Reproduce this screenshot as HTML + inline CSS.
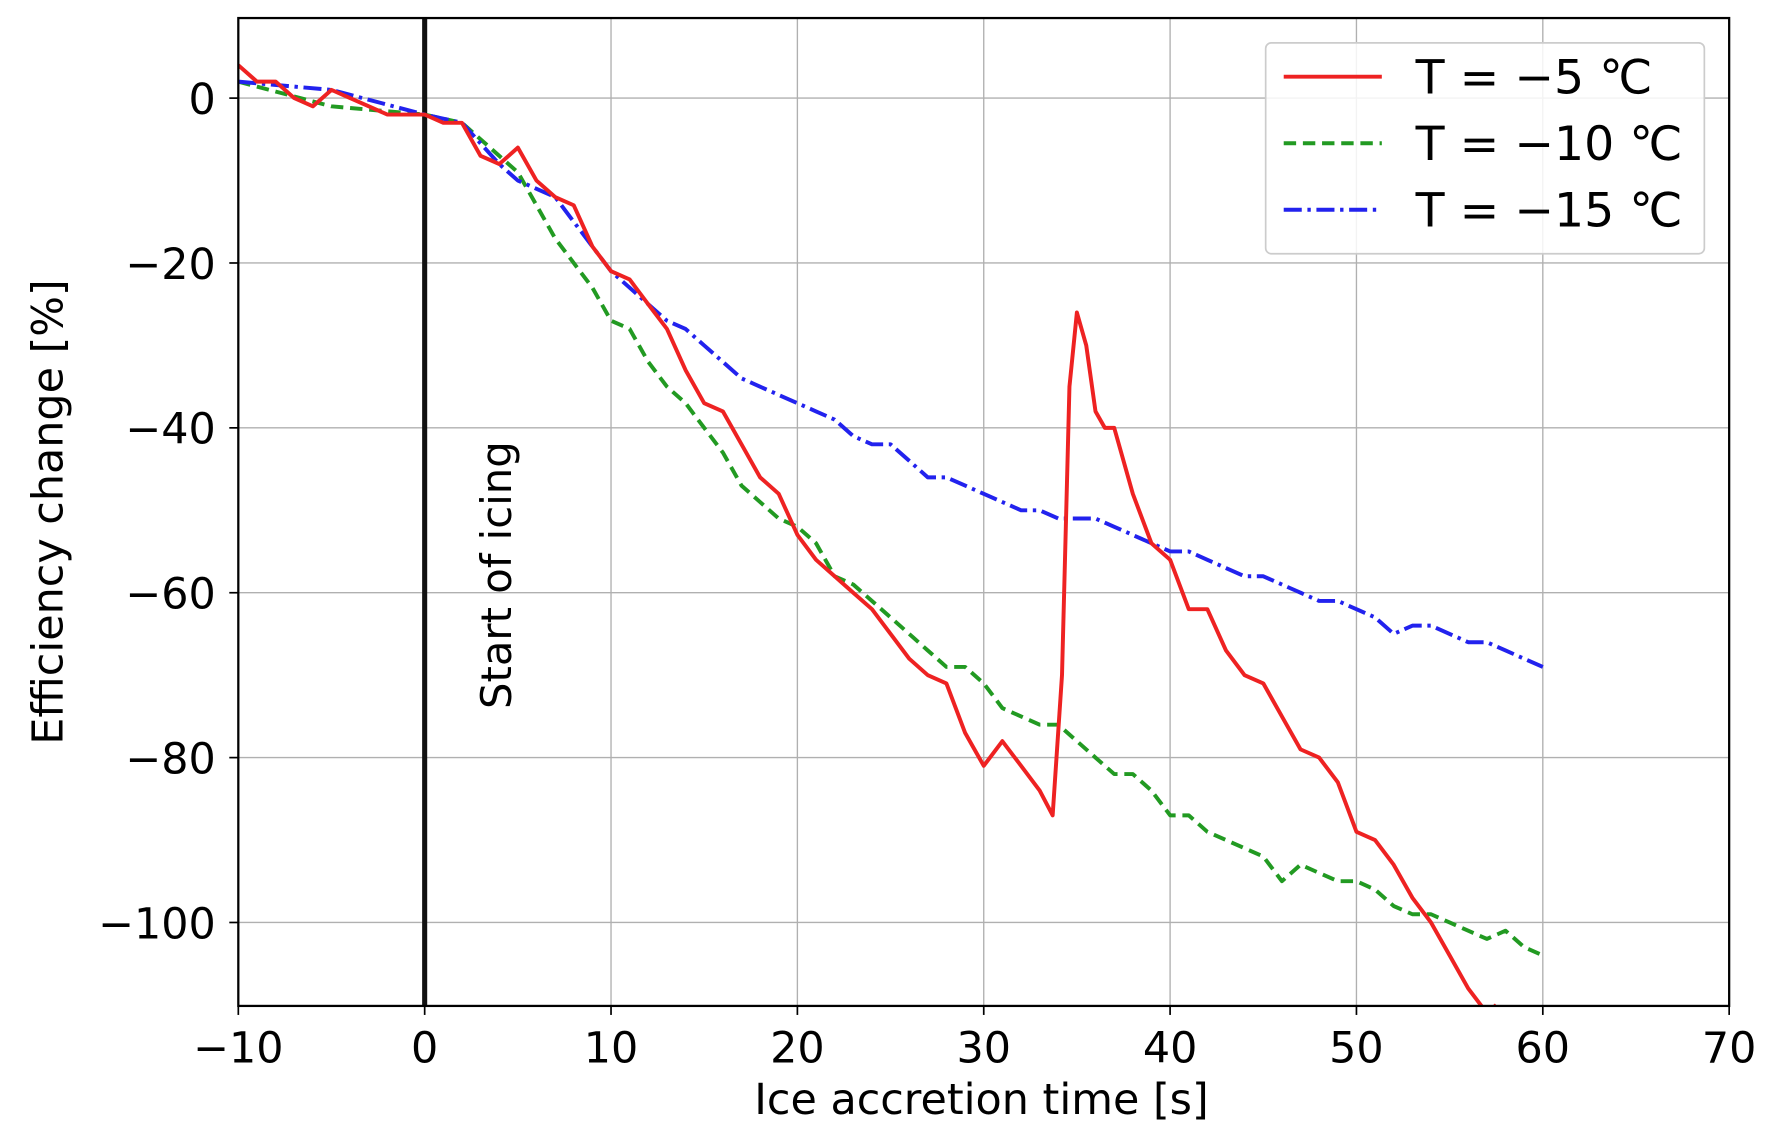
<!DOCTYPE html>
<html><head><meta charset="utf-8"><style>
html,body{margin:0;padding:0;background:#fff;}
svg{display:block;font-family:"DejaVu Sans","Liberation Sans",sans-serif;}
</style></head><body>
<svg id="chart" width="1769" height="1139" viewBox="0 0 1568 1010" xmlns="http://www.w3.org/2000/svg">
<defs><clipPath id="plotclip"><rect x="211" y="16" width="1322" height="876"/></clipPath></defs>
<g id="grid"></g>
<g id="series" clip-path="url(#plotclip)"></g>
<g id="axes"></g>
</svg>
<script>
const xTicks=[-10,0,10,20,30,40,50,60,70];
const yTicks=[0,-20,-40,-60,-80,-100];
const redX=[-10,-9,-8,-7,-6,-5,-4,-3,-2,-1,0,1,2,3,4,5,6,7,8,9,10,11,12,13,14,15,16,17,18,19,20,21,22,23,24,25,26,27,28,29,30,31,32,33,33.7,34.2,34.6,35,35.5,36,36.5,37,38,39,40,41,42,43,44,45,46,47,48,49,50,51,52,53,54,55,56,57,57.5];
const redY=[4,2,2,0,-1,1,0,-1,-2,-2,-2,-3,-3,-7,-8,-6,-10,-12,-13,-18,-21,-22,-25,-28,-33,-37,-38,-42,-46,-48,-53,-56,-58,-60,-62,-65,-68,-70,-71,-77,-81,-78,-81,-84,-87,-70,-35,-26,-30,-38,-40,-40,-48,-54,-56,-62,-62,-67,-70,-71,-75,-79,-80,-83,-89,-90,-93,-97,-100,-104,-108,-111,-110];
const greenX=[-10,-5,0,2,4,5,6,7,8,9,10,11,12,13,14,15,16,17,18,19,20,21,22,23,24,25,26,27,28,29,30,31,32,33,34,35,36,37,38,39,40,41,42,43,44,45,46,47,48,49,50,51,52,53,54,55,56,57,58,59,60];
const greenY=[2,-1,-2,-3,-7,-9,-13,-17,-20,-23,-27,-28,-32,-35,-37,-40,-43,-47,-49,-51,-52,-54,-58,-59,-61,-63,-65,-67,-69,-69,-71,-74,-75,-76,-76,-78,-80,-82,-82,-84,-87,-87,-89,-90,-91,-92,-95,-93,-94,-95,-95,-96,-98,-99,-99,-100,-101,-102,-101,-103,-104];
const blueX=[-10,-5,0,2,4,5,6,7,8,9,10,11,12,13,14,15,16,17,18,19,20,21,22,23,24,25,26,27,28,29,30,31,32,33,34,35,36,37,38,39,40,41,42,43,44,45,46,47,48,49,50,51,52,53,54,55,56,57,58,59,60];
const blueY=[2,1,-2,-3,-8,-10,-11,-12,-15,-18,-21,-23,-25,-27,-28,-30,-32,-34,-35,-36,-37,-38,-39,-41,-42,-42,-44,-46,-46,-47,-48,-49,-50,-50,-51,-51,-51,-52,-53,-54,-55,-55,-56,-57,-58,-58,-59,-60,-61,-61,-62,-63,-65,-64,-64,-65,-66,-66,-67,-68,-69];
const labels=["T = \u22125 \u2103","T = \u221210 \u2103","T = \u221215 \u2103"];

const NS="http://www.w3.org/2000/svg";
const X0=211,X1=1533,Y0=16,Y1=892;
const xs=v=>X0+(v+10)/80*(X1-X0);
const ys=v=>87-v*7.31;
function mk(tag,attrs,parent){const e=document.createElementNS(NS,tag);for(const k in attrs)e.setAttribute(k,attrs[k]);parent.appendChild(e);return e;}
const grid=document.getElementById('grid'),axes=document.getElementById('axes'),series=document.getElementById('series');
xTicks.forEach(t=>{
  const l=mk('line',{x1:xs(t),x2:xs(t),y1:Y0,y2:Y1,stroke:'#b0b0b0','stroke-width':1.2},grid);
  
  
  mk('line',{x1:xs(t),x2:xs(t),y1:Y1,y2:Y1+8,stroke:'#000','stroke-width':1.5},axes);
  const tx=mk('text',{x:xs(t),y:Y1+50,'text-anchor':'middle','font-size':38,fill:'#000'},axes);
  tx.textContent=t<0?'\u2212'+Math.abs(t):t;
  
  
});
yTicks.forEach(t=>{
  const l=mk('line',{x1:X0,x2:X1,y1:ys(t),y2:ys(t),stroke:'#b0b0b0','stroke-width':1.2},grid);
  
  
  mk('line',{x1:X0-8,x2:X0,y1:ys(t),y2:ys(t),stroke:'#000','stroke-width':1.5},axes);
  const tx=mk('text',{x:X0-20,y:ys(t)+14,'text-anchor':'end','font-size':38,fill:'#000'},axes);
  tx.textContent=t<0?'\u2212'+Math.abs(t):t;
  
  
});
const frame=mk('rect',{x:X0,y:Y0,width:X1-X0,height:Y1-Y0,fill:'none',stroke:'#000','stroke-width':2},axes);


const vl=mk('line',{x1:xs(0),x2:xs(0),y1:Y0,y2:Y1,stroke:'#111','stroke-width':4.5},series);


const it=mk('text',{x:0,y:0,'font-size':37,fill:'#000',transform:`translate(453,510) rotate(-90)`,'text-anchor':'middle'},axes);
it.textContent='Start of icing';


function poly(xa,ya,color,dash,name){
  const pts=xa.map((x,i)=>xs(x).toFixed(1)+','+ys(ya[i]).toFixed(1)).join(' ');
  const p=mk('polyline',{points:pts,fill:'none',stroke:color,'stroke-width':3.5,'stroke-dasharray':dash,'stroke-linejoin':'round'},series);
  
  
}
poly(greenX,greenY,'#229a22','11,6','series-minus-10');
poly(blueX,blueY,'#2222ee','16,5,3,5','series-minus-15');
poly(redX,redY,'#ee2222','none','series-minus-5');
const lg=mk('g',{},axes);


mk('rect',{x:1122,y:38,width:389,height:187,rx:5,fill:'rgba(255,255,255,0.85)',stroke:'#ccc','stroke-width':1.5},lg);
const cols=['#ee2222','#229a22','#2222ee'],dashes=['none','11,6','16,5,3,5'];
labels.forEach((lab,i)=>{
  const y=68+i*59;
  const l=mk('line',{x1:1138,x2:1225,y1:y,y2:y,stroke:cols[i],'stroke-width':3.5,'stroke-dasharray':dashes[i]},lg);
  
  
  const t=mk('text',{x:1255,y:y+15,'font-size':42,fill:'#000'},lg);
  t.textContent=lab;
  
  
});
const xt=mk('text',{x:870,y:988,'text-anchor':'middle','font-size':38,fill:'#000'},axes);
xt.textContent='Ice accretion time [s]';


const yt=mk('text',{x:0,y:0,'text-anchor':'middle','font-size':38,fill:'#000',transform:'translate(55,454) rotate(-90)'},axes);
yt.textContent='Efficiency change [%]';


</script>
</body></html>
